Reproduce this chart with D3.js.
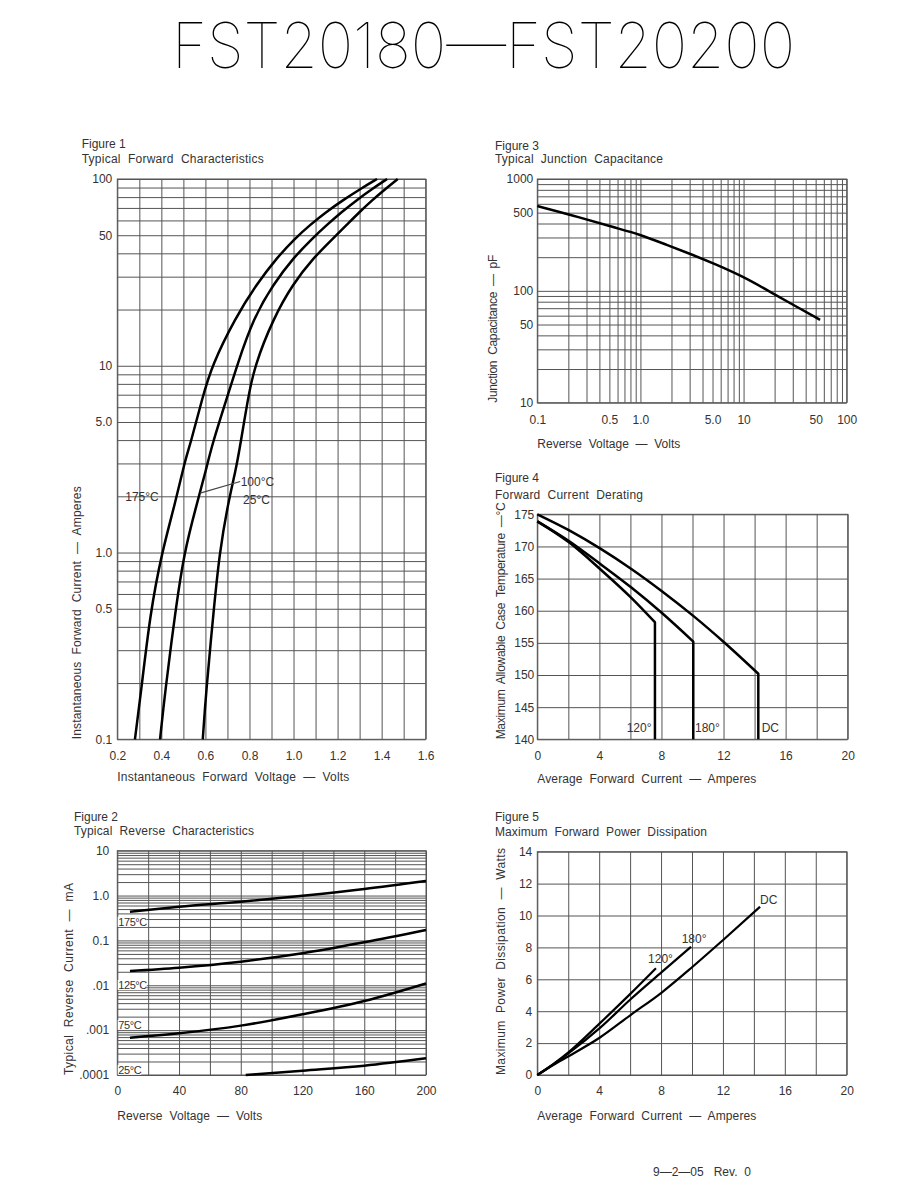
<!DOCTYPE html>
<html>
<head>
<meta charset="utf-8">
<script src="https://cdn.jsdelivr.net/npm/d3@7"></script>
<style>
body { margin: 0; background: #fff; }
svg text { font-family: "Liberation Sans", Arial, sans-serif; font-size: 12px; fill: #333; white-space: pre; }
svg text.head { font-family: Inter, "DejaVu Sans", sans-serif; font-weight: 100; font-size: 63px; fill: #000; }
svg text.tight { font-size: 11px; letter-spacing: -0.4px; }
.grid line { stroke: #555; stroke-width: 1; }
.grid path, .ticks path { display: none; }
.frame { fill: none; stroke: #555; stroke-width: 1; }
.curve { fill: none; stroke: #000; stroke-width: 2.5; stroke-linejoin: round; }
.leader { stroke: #444; stroke-width: 1.2; }
</style>
</head>
<body>
<svg id="page" width="918" height="1188"></svg>
<script>
// ---- Figure 1: forward characteristics (volts, amperes) ----
var fig1XTicks = [0.2, 0.4, 0.6, 0.8, 1.0, 1.2, 1.4, 1.6];
var fig1XLabels = ['0.2', '0.4', '0.6', '0.8', '1.0', '1.2', '1.4', '1.6'];
var fig1YTicks = [0.1, 0.5, 1, 5, 10, 50, 100];
var fig1YLabels = ['0.1', '0.5', '1.0', '5.0', '10', '50', '100'];
var fig1Curve175 = [[0.28, 0.1], [0.308, 0.18], [0.349, 0.47], [0.402, 1.0], [0.462, 1.82], [0.508, 3.14], [0.53, 3.74], [0.588, 6.85], [0.629, 10], [0.735, 18], [0.833, 27.4], [0.925, 37.9], [1.005, 47.9], [1.076, 56.9], [1.15, 66.8], [1.223, 76.8], [1.303, 88.4], [1.379, 100]];
var fig1Curve100 = [[0.394, 0.1], [0.417, 0.18], [0.462, 0.47], [0.503, 1.0], [0.561, 1.82], [0.603, 2.77], [0.629, 3.74], [0.697, 6.68], [0.743, 10], [0.818, 18], [0.909, 27.4], [1.0, 37.9], [1.084, 47.9], [1.152, 56.9], [1.22, 66.8], [1.285, 76.8], [1.356, 88.4], [1.425, 100]];
var fig1Curve25 = [[0.588, 0.1], [0.603, 0.18], [0.636, 0.47], [0.664, 1.0], [0.702, 1.82], [0.738, 2.77], [0.758, 3.74], [0.793, 6.68], [0.823, 10], [0.909, 18], [0.997, 27.4], [1.091, 37.9], [1.178, 47.9], [1.242, 56.9], [1.301, 66.8], [1.356, 76.8], [1.417, 88.4], [1.473, 100]];
var fig1Notes = [['175°C', 0.236, 2.0], ['100°C', 0.76, 2.4], ['25°C', 0.771, 1.92]];
var fig1Leader = [[0.576, 2.08], [0.758, 2.4]];

// ---- Figure 3: junction capacitance (volts, pF) ----
var fig3XTicks = [0.1, 0.5, 1, 5, 10, 50, 100];
var fig3XLabels = ['0.1', '0.5', '1.0', '5.0', '10', '50', '100'];
var fig3YTicks = [10, 50, 100, 500, 1000];
var fig3YLabels = ['10', '50', '100', '500', '1000'];
var fig3Curve = [[0.1, 573], [0.259, 454], [0.546, 370], [0.99, 320], [1.8, 257], [3.26, 209], [5.09, 176], [9.95, 134], [18.1, 98], [32.8, 72], [55.2, 55]];

// ---- Figure 4: forward current derating (amperes, °C) ----
var fig4XTicks = [0, 4, 8, 12, 16, 20];
var fig4YTicks = [140, 145, 150, 155, 160, 165, 170, 175];
var fig4CurveDC = [[0, 175], [2.06, 172.5], [4.04, 169.7], [6.06, 166.5], [8.05, 163], [10.05, 159.2], [12.03, 155.1], [14.24, 150.2], [14.24, 140]];
var fig4Curve180 = [[0, 173.9], [2.06, 170.8], [4.04, 167.3], [6.06, 163.6], [8.05, 159.6], [10.05, 155.2], [10.05, 140]];
var fig4Curve120 = [[0, 173.9], [2.06, 170.6], [4.04, 166.5], [6.06, 162.0], [7.58, 158.2], [7.58, 140]];
var fig4Notes = [['120°', 7.36, 141.8, 'end'], ['180°', 10.16, 141.8, 'start'], ['DC', 14.46, 141.8, 'start']];

// ---- Figure 2: reverse characteristics (volts, mA) ----
var fig2XTicks = [0, 40, 80, 120, 160, 200];
var fig2YTicks = [0.0001, 0.001, 0.01, 0.1, 1, 10];
var fig2YLabels = ['.0001', '.001', '.01', '0.1', '1.0', '10'];
var fig2Curve175 = [[8.2, 0.437], [40, 0.565], [80, 0.73], [120, 0.99], [160, 1.40], [200, 2.11]];
var fig2Curve125 = [[8.2, 0.0208], [40, 0.0247], [80, 0.0336], [120, 0.0516], [160, 0.0908], [200, 0.171]];
var fig2Curve75 = [[8.2, 0.00068], [40, 0.00085], [80, 0.00126], [120, 0.00225], [160, 0.00446], [200, 0.011]];
var fig2Curve25 = [[83.2, 0.0001], [120, 0.000125], [160, 0.000161], [200, 0.000235]];
var fig2Notes = [['175°C', 0.6, 0.258], ['125°C', 0.6, 0.0101], ['75°C', 0.6, 0.0013], ['25°C', 0.6, 0.000129]];

// ---- Figure 5: power dissipation (amperes, watts) ----
var fig5XTicks = [0, 4, 8, 12, 16, 20];
var fig5YTicks = [0, 2, 4, 6, 8, 10, 12, 14];
var fig5CurveDC = [[0, 0], [1.03, 0.63], [2.05, 1.19], [4.05, 2.35], [6.03, 3.76], [8.04, 5.17], [10.02, 6.77], [12.03, 8.48], [14.4, 10.55]];
var fig5Curve180 = [[0, 0], [1.03, 0.66], [2.05, 1.38], [4.05, 2.95], [6.03, 4.75], [8.04, 6.45], [9.94, 8.04]];
var fig5Curve120 = [[0, 0], [1.03, 0.68], [2.05, 1.45], [4.05, 3.25], [6.03, 5.1], [7.67, 6.69]];
var fig5Notes = [['120°', 7.16, 7.27], ['180°', 9.33, 8.53], ['DC', 14.4, 10.97]];

var svg = d3.select('#page');

svg.append('text')
	.attr('class', 'head')
	.attr('x', 172)
	.attr('y', 68)
	.attr('textLength', 623)
	.attr('lengthAdjust', 'spacingAndGlyphs')
	.text('FST20180\u2014FST20200');

function drawPanel(p) {
	var w = p.right - p.left,
		h = p.bottom - p.top;

	p.x.range([0, w]);
	p.y.range([h, 0]);

	var g = svg.append('g')
		.attr('transform', 'translate(' + p.left + ',' + p.top + ')');

	g.append('g')
		.attr('class', 'grid')
		.attr('transform', 'translate(0,' + h + ')')
		.call(d3.axisBottom(p.x).tickValues(p.xGrid || p.x.ticks()).tickSize(-h).tickFormat(''));

	g.append('g')
		.attr('class', 'grid')
		.call(d3.axisLeft(p.y).tickValues(p.yGrid || p.y.ticks()).tickSize(-w).tickFormat(''));

	g.append('rect')
		.attr('class', 'frame')
		.attr('width', w)
		.attr('height', h);

	g.append('g')
		.attr('class', 'ticks')
		.attr('transform', 'translate(0,' + h + ')')
		.call(d3.axisBottom(p.x).tickValues(p.xTicks).tickSize(0).tickPadding(p.xPad)
			.tickFormat(function (d, i) { return p.xLabels ? p.xLabels[i] : d; }));

	g.append('g')
		.attr('class', 'ticks')
		.call(d3.axisLeft(p.y).tickValues(p.yTicks).tickSize(0).tickPadding(p.yPad)
			.tickFormat(function (d, i) { return p.yLabels ? p.yLabels[i] : d; }));

	// titles
	svg.append('text').attr('x', p.titleX).attr('y', p.figY).text(p.fig);
	svg.append('text').attr('x', p.titleX).attr('y', p.subY)
		.attr('textLength', p.subLen).text(p.sub);
	svg.append('text').attr('x', p.left).attr('y', p.xTitleY)
		.attr('textLength', p.xLen).text(p.xTitle);
	svg.append('text')
		.attr('transform', 'translate(' + p.yTitleX + ',' + p.bottom + ') rotate(-90)')
		.attr('dy', '0.35em')
		.attr('textLength', p.yLen)
		.text(p.yTitle);

	svg.append('clipPath').attr('id', p.id + '-clip')
		.append('rect').attr('x', -2).attr('y', -2).attr('width', w + 4).attr('height', h + 4);

	var line = d3.line()
		.curve(p.curve)
		.x(function (d) { return p.x(d[0]); })
		.y(function (d) { return p.y(d[1]); });

	var curves = g.append('g').attr('clip-path', 'url(#' + p.id + '-clip)');
	p.series.forEach(function (s) {
		var d;
		if (p.drop) {
			// smooth derating slope, then the straight drop to the axis
			var last = s[s.length - 1];
			d = line(s.slice(0, -1)) + 'L' + p.x(last[0]) + ',' + p.y(last[1]);
		} else {
			d = line(s);
		}
		curves.append('path').attr('class', 'curve').attr('d', d);
	});

	return g;
}

function note(g, p, label, xv, yv, anchor, boxed) {
	var t = g.append('text')
		.attr('x', p.x(xv))
		.attr('y', p.y(yv))
		.attr('dy', '0.35em')
		.attr('text-anchor', anchor || 'start')
		.text(label);
	if (boxed) {
		t.attr('class', 'tight');
		var b = t.node().getBBox();
		g.insert('rect', function () { return t.node(); })
			.attr('x', b.x - 0.5).attr('y', b.y + 1)
			.attr('width', b.width).attr('height', b.height - 2)
			.attr('fill', '#fff');
	}
	return t;
}

// Figure 1
var p1 = {
	id: 'f1', left: 117.3, top: 179, right: 425.7, bottom: 739.3,
	x: d3.scaleLinear().domain([0.2, 1.6]),
	y: d3.scaleLog().domain([0.1, 100]),
	xGrid: d3.range(2, 17).map(function (k) { return k / 10; }),
	xTicks: fig1XTicks, xLabels: fig1XLabels, yTicks: fig1YTicks, yLabels: fig1YLabels,
	xPad: 12, yPad: 5,
	titleX: 81.7, figY: 147.5, subY: 162.5,
	fig: 'Figure 1', sub: 'Typical  Forward  Characteristics', subLen: 182,
	xTitle: 'Instantaneous  Forward  Voltage  \u2014  Volts', xTitleY: 781, xLen: 232,
	yTitle: 'Instantaneous  Forward  Current  \u2014  Amperes', yTitleX: 76.7, yLen: 253,
	curve: d3.curveBasis,
	series: [fig1Curve175, fig1Curve100, fig1Curve25]
};
var g1 = drawPanel(p1);
g1.append('line')
	.attr('class', 'leader')
	.attr('x1', p1.x(fig1Leader[0][0])).attr('y1', p1.y(fig1Leader[0][1]))
	.attr('x2', p1.x(fig1Leader[1][0])).attr('y2', p1.y(fig1Leader[1][1]));
fig1Notes.forEach(function (n) { note(g1, p1, n[0], n[1], n[2]); });

// Figure 3
var p3 = {
	id: 'f3', left: 537.3, top: 179, right: 846.7, bottom: 402.7,
	x: d3.scaleLog().domain([0.1, 100]),
	y: d3.scaleLog().domain([10, 1000]),
	xTicks: fig3XTicks, xLabels: fig3XLabels, yTicks: fig3YTicks, yLabels: fig3YLabels,
	xPad: 13, yPad: 4,
	titleX: 495, figY: 150, subY: 162.5,
	fig: 'Figure 3', sub: 'Typical  Junction  Capacitance', subLen: 168,
	xTitle: 'Reverse  Voltage  \u2014  Volts', xTitleY: 447.5, xLen: 143,
	yTitle: 'Junction  Capacitance  \u2014  pF', yTitleX: 493, yLen: 148,
	curve: d3.curveBasis,
	series: [fig3Curve]
};
drawPanel(p3);

// Figure 4
var p4 = {
	id: 'f4', left: 537.3, top: 514.3, right: 847.7, bottom: 739.3,
	x: d3.scaleLinear().domain([0, 20]),
	y: d3.scaleLinear().domain([140, 175]),
	xGrid: d3.range(0, 21, 2), yGrid: d3.range(140, 176, 5),
	xTicks: fig4XTicks, yTicks: fig4YTicks,
	xPad: 12, yPad: 3,
	titleX: 495, figY: 482, subY: 498.5,
	fig: 'Figure 4', sub: 'Forward  Current  Derating', subLen: 148,
	xTitle: 'Average  Forward  Current  \u2014  Amperes', xTitleY: 782.5, xLen: 219,
	yTitle: 'Maximum  Allowable  Case  Temperature  \u2014\u00b0C', yTitleX: 501, yLen: 237,
	curve: d3.curveMonotoneX, drop: true,
	series: [fig4CurveDC, fig4Curve180, fig4Curve120]
};
var g4 = drawPanel(p4);
fig4Notes.forEach(function (n) { note(g4, p4, n[0], n[1], n[2], n[3]); });

// Figure 2
var p2 = {
	id: 'f2', left: 117.3, top: 850.7, right: 426, bottom: 1075,
	x: d3.scaleLinear().domain([0, 200]),
	y: d3.scaleLog().domain([0.0001, 10]),
	xGrid: d3.range(0, 201, 20),
	xTicks: fig2XTicks, yTicks: fig2YTicks, yLabels: fig2YLabels,
	xPad: 11, yPad: 8,
	titleX: 74, figY: 821, subY: 834.5,
	fig: 'Figure 2', sub: 'Typical  Reverse  Characteristics', subLen: 180,
	xTitle: 'Reverse  Voltage  \u2014  Volts', xTitleY: 1119.5, xLen: 145,
	yTitle: 'Typical  Reverse  Current  \u2014  mA', yTitleX: 69, yLen: 192,
	curve: d3.curveMonotoneX,
	series: [fig2Curve175, fig2Curve125, fig2Curve75, fig2Curve25]
};
var g2 = drawPanel(p2);
fig2Notes.forEach(function (n) { note(g2, p2, n[0], n[1], n[2], 'start', true); });

// Figure 5
var p5 = {
	id: 'f5', left: 537.3, top: 851.7, right: 846.7, bottom: 1075,
	x: d3.scaleLinear().domain([0, 20]),
	y: d3.scaleLinear().domain([0, 14]),
	xGrid: d3.range(0, 21, 2), yGrid: d3.range(0, 15, 2),
	xTicks: fig5XTicks, yTicks: fig5YTicks,
	xPad: 11, yPad: 5,
	titleX: 495, figY: 821, subY: 835.5,
	fig: 'Figure 5', sub: 'Maximum  Forward  Power  Dissipation', subLen: 212,
	xTitle: 'Average  Forward  Current  \u2014  Amperes', xTitleY: 1119.5, xLen: 219,
	yTitle: 'Maximum  Power  Dissipation  \u2014  Watts', yTitleX: 501, yLen: 227,
	curve: d3.curveMonotoneX,
	series: [fig5CurveDC, fig5Curve180, fig5Curve120]
};
var g5 = drawPanel(p5);
g5.selectAll('.curve').style('stroke-width', 2.2);
fig5Notes.forEach(function (n) { note(g5, p5, n[0], n[1], n[2]); });

svg.append('text')
	.attr('x', 653)
	.attr('y', 1176)
	.text('9\u20142\u201405   Rev.  0');
</script>
</body>
</html>
